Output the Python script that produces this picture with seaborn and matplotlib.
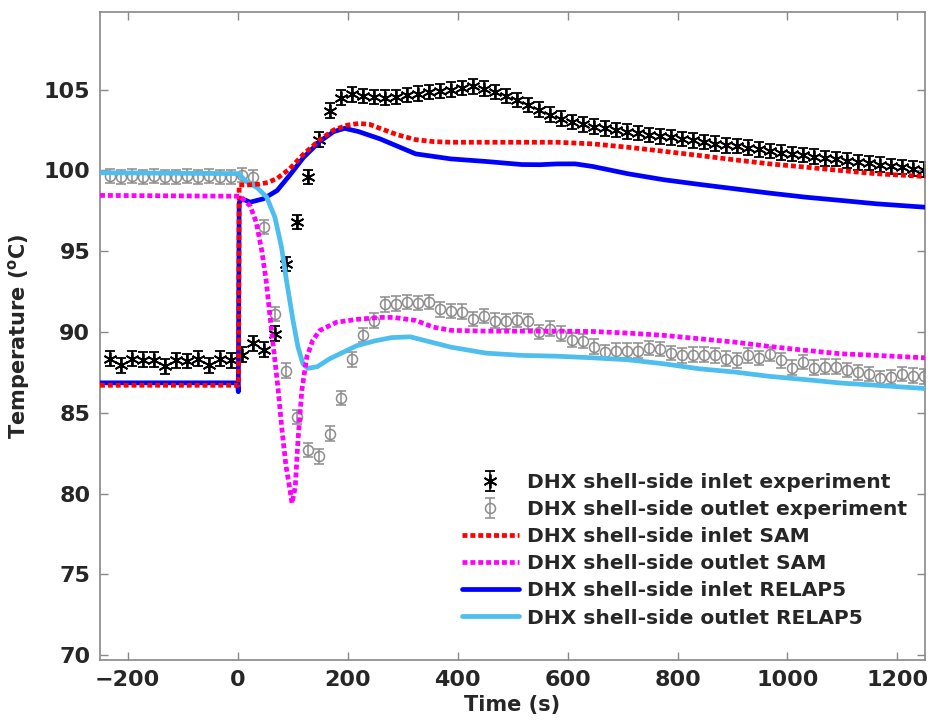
import numpy as np
import pandas as pd
import matplotlib
matplotlib.use("Agg")
import matplotlib.pyplot as plt
from matplotlib.lines import Line2D
import seaborn as sns

# ---------------- experiment (20 s sampling) ----------------
t_exp = [-232, -212, -192, -172, -152, -132, -112, -92, -72, -52, -32, -12,
         8, 28, 48, 68, 88, 108, 128, 148, 168, 188, 208, 228, 248, 268,
         288, 308, 328, 348, 368, 388, 408, 428, 448, 468, 488, 508, 528,
         548, 568, 588, 608, 628, 648, 668, 688, 708, 728, 748, 768, 788,
         808, 828, 848, 868, 888, 908, 928, 948, 968, 988, 1008, 1028, 1048,
         1068, 1088, 1108, 1128, 1148, 1168, 1188, 1208, 1228, 1248]

inlet_exp = [88.35, 87.93, 88.35, 88.28, 88.28, 87.87, 88.24, 88.2, 88.35, 87.93, 88.35, 88.24,
             88.6, 89.3, 88.9, 89.9, 94.2, 96.8, 99.6, 101.9, 103.7, 104.5, 104.7, 104.6, 104.55, 104.5,
             104.55, 104.65, 104.75, 104.85, 104.9, 105.0, 105.1, 105.2, 105.05, 104.85, 104.6, 104.35, 104.05,
             103.75, 103.45, 103.2, 103.0, 102.85, 102.7, 102.6, 102.5, 102.4, 102.3, 102.2, 102.1, 102.05,
             101.95, 101.85, 101.75, 101.65, 101.55, 101.5, 101.4, 101.3, 101.2, 101.1, 101.0, 100.95, 100.85,
             100.75, 100.7, 100.6, 100.5, 100.45, 100.35, 100.25, 100.2, 100.1, 100.05]

outlet_exp = [99.65, 99.6, 99.65, 99.6, 99.65, 99.6, 99.6, 99.65, 99.6, 99.65, 99.6, 99.6,
              99.7, 99.6, 96.5, 91.1, 87.6, 84.75, 82.7, 82.3, 83.7, 85.9, 88.3, 89.8, 90.7, 91.7,
              91.75, 91.85, 91.8, 91.85, 91.4, 91.3, 91.25, 90.8, 91.0, 90.7, 90.65, 90.75, 90.65,
              90.0, 90.2, 89.9, 89.5, 89.45, 89.1, 88.75, 88.85, 88.85, 88.85, 89.0, 88.95, 88.7,
              88.55, 88.6, 88.6, 88.55, 88.35, 88.25, 88.55, 88.4, 88.65, 88.25, 87.8, 88.15, 87.8,
              87.85, 87.85, 87.65, 87.5, 87.4, 87.15, 87.2, 87.4, 87.3, 87.25]

exp_err = 0.45

# ---------------- SAM ----------------
t_sam_in = [-250, 2, 3, 20, 40, 55, 72, 95, 120, 150, 175, 200, 220, 240, 259, 291, 324,
            356, 388, 452, 517, 581, 646, 710, 775, 840, 904, 968, 1033, 1097, 1162, 1250]
sam_in = [86.7, 86.7, 99.1, 99.1, 99.15, 99.25, 99.5, 100.1, 101.0, 101.9, 102.5, 102.8, 102.9,
          102.85, 102.6, 102.2, 101.9, 101.78, 101.74, 101.74, 101.74, 101.74, 101.64, 101.43,
          101.18, 100.92, 100.65, 100.4, 100.2, 99.99, 99.79, 99.62]

t_sam_out = [-250, 4.5, 23, 34, 44, 52, 59, 66, 74, 81, 88, 96, 99, 105, 110, 117, 126, 137,
             150, 180, 217, 259, 284, 324, 356, 388, 452, 517, 581, 646, 710, 775, 840, 904,
             968, 1033, 1097, 1162, 1250]
sam_out = [98.45, 98.4, 97.8, 96.8, 95.05, 93.2, 91.0, 88.85, 86.4, 83.9, 81.75, 80.1, 79.4,
           80.4, 83.3, 86.4, 88.45, 89.5, 90.1, 90.6, 90.78, 90.9, 90.9, 90.71, 90.3, 90.1,
           90.05, 90.05, 90.05, 90.03, 89.93, 89.79, 89.58, 89.37, 89.1, 88.86, 88.65, 88.55, 88.4]

# ---------------- RELAP5 ----------------
t_rel_in = [-250, 0, 1.5, 3, 8, 23, 47, 72, 95, 120, 150, 175, 195, 220, 259, 324, 388, 452,
            517, 550, 581, 614, 646, 710, 775, 840, 904, 968, 1033, 1097, 1162, 1250]
rel_in = [86.85, 86.85, 86.3, 98.0, 98.24, 98.03, 98.24, 98.75, 99.7, 100.8, 101.8, 102.4,
          102.6, 102.4, 101.95, 101.02, 100.71, 100.55, 100.36, 100.35, 100.4, 100.4, 100.24,
          99.79, 99.42, 99.13, 98.86, 98.59, 98.34, 98.14, 97.93, 97.72]

t_rel_out = [-250, 2, 16, 35, 53, 68, 80, 89, 101, 110, 119, 128, 145, 168, 217, 250, 280,
             314, 388, 452, 517, 581, 646, 710, 775, 840, 904, 968, 1033, 1097, 1162, 1250]
rel_out = [99.85, 99.8, 99.3, 98.95, 98.35, 97.1, 95.25, 93.2, 90.7, 89.06, 88.03, 87.75,
           87.85, 88.35, 89.15, 89.45, 89.65, 89.7, 89.06, 88.69, 88.55, 88.5, 88.4, 88.28,
           88.03, 87.72, 87.52, 87.25, 87.05, 86.84, 86.7, 86.5]

labels = ["DHX shell-side inlet experiment", "DHX shell-side outlet experiment",
          "DHX shell-side inlet SAM", "DHX shell-side outlet SAM",
          "DHX shell-side inlet RELAP5", "DHX shell-side outlet RELAP5"]

# ---------------- style ----------------
sns.set_theme(style="ticks")
plt.rcParams["font.family"] = ["DejaVu Sans"]
plt.rcParams["font.weight"] = "bold"
plt.rcParams["axes.labelweight"] = "bold"

fig = plt.figure(figsize=(9.33, 7.28), dpi=100)
ax = fig.add_axes([100 / 933, 1 - 660 / 728, 825 / 933, 648 / 728])

gray = "#8c8c8c"

# experiment with error bars
h_exp_in = ax.errorbar(t_exp, inlet_exp, yerr=exp_err, linestyle="none",
                       marker=(6, 2, 0), markersize=10, markeredgewidth=1.3,
                       color="black", ecolor="black", elinewidth=1.1,
                       capsize=3.6, capthick=1.1, zorder=2)
h_exp_out = ax.errorbar(t_exp, outlet_exp, yerr=exp_err, linestyle="none",
                        marker="o", markersize=7.2, markerfacecolor="none",
                        markeredgecolor=gray, markeredgewidth=1.1, color=gray,
                        ecolor=gray, elinewidth=1.1, capsize=3.6, capthick=1.1, zorder=2)

# model curves
lw = 3.4
dots = (0, (1.05, 0.62))
sns.lineplot(x=t_rel_in, y=rel_in, ax=ax, color="#0000ff", linewidth=lw,
             sort=False, estimator=None, zorder=3)
sns.lineplot(x=t_rel_out, y=rel_out, ax=ax, color="#4dbeee", linewidth=lw,
             sort=False, estimator=None, zorder=3)
sns.lineplot(x=t_sam_in, y=sam_in, ax=ax, color="#ff0000", linewidth=lw,
             linestyle=dots, sort=False, estimator=None, zorder=4)
sns.lineplot(x=t_sam_out, y=sam_out, ax=ax, color="#ff00ff", linewidth=lw,
             linestyle=dots, sort=False, estimator=None, zorder=4)

# axes
ax.set_xlim(-250, 1250)
ax.set_ylim(69.7, 109.8)
ax.set_xticks(range(-200, 1201, 200))
ax.set_yticks(range(70, 106, 5))
ax.set_xlabel("Time (s)", fontsize=15, fontweight="bold", labelpad=4)
ax.set_ylabel("Temperature ($\\mathregular{^{o}}$C)", fontsize=15, fontweight="bold", labelpad=8)
ax.tick_params(direction="in", length=6, width=1, colors="#888888", labelcolor="#262626",
               top=True, right=True, labelsize=16, pad=7)
for lab in ax.get_xticklabels() + ax.get_yticklabels():
    lab.set_fontweight("bold")
for sp in ax.spines.values():
    sp.set_visible(True)
    sp.set_color("#888888")
    sp.set_linewidth(1.2)

# legend
h_sam_in = Line2D([], [], color="#ff0000", linewidth=lw, linestyle=dots)
h_sam_out = Line2D([], [], color="#ff00ff", linewidth=lw, linestyle=dots)
h_rel_in = Line2D([], [], color="#0000ff", linewidth=lw)
h_rel_out = Line2D([], [], color="#4dbeee", linewidth=lw)
fig.legend([h_exp_in, h_exp_out, h_sam_in, h_sam_out, h_rel_in, h_rel_out],
           labels, loc="upper left", bbox_to_anchor=(462 / 933, 1 - 473 / 728),
           frameon=False, handlelength=2.8, handletextpad=0.4, numpoints=1,
           labelspacing=0.4, borderpad=0, borderaxespad=0,
           prop={"weight": "bold", "size": 14.6})

fig.savefig("out.png", dpi=100)
